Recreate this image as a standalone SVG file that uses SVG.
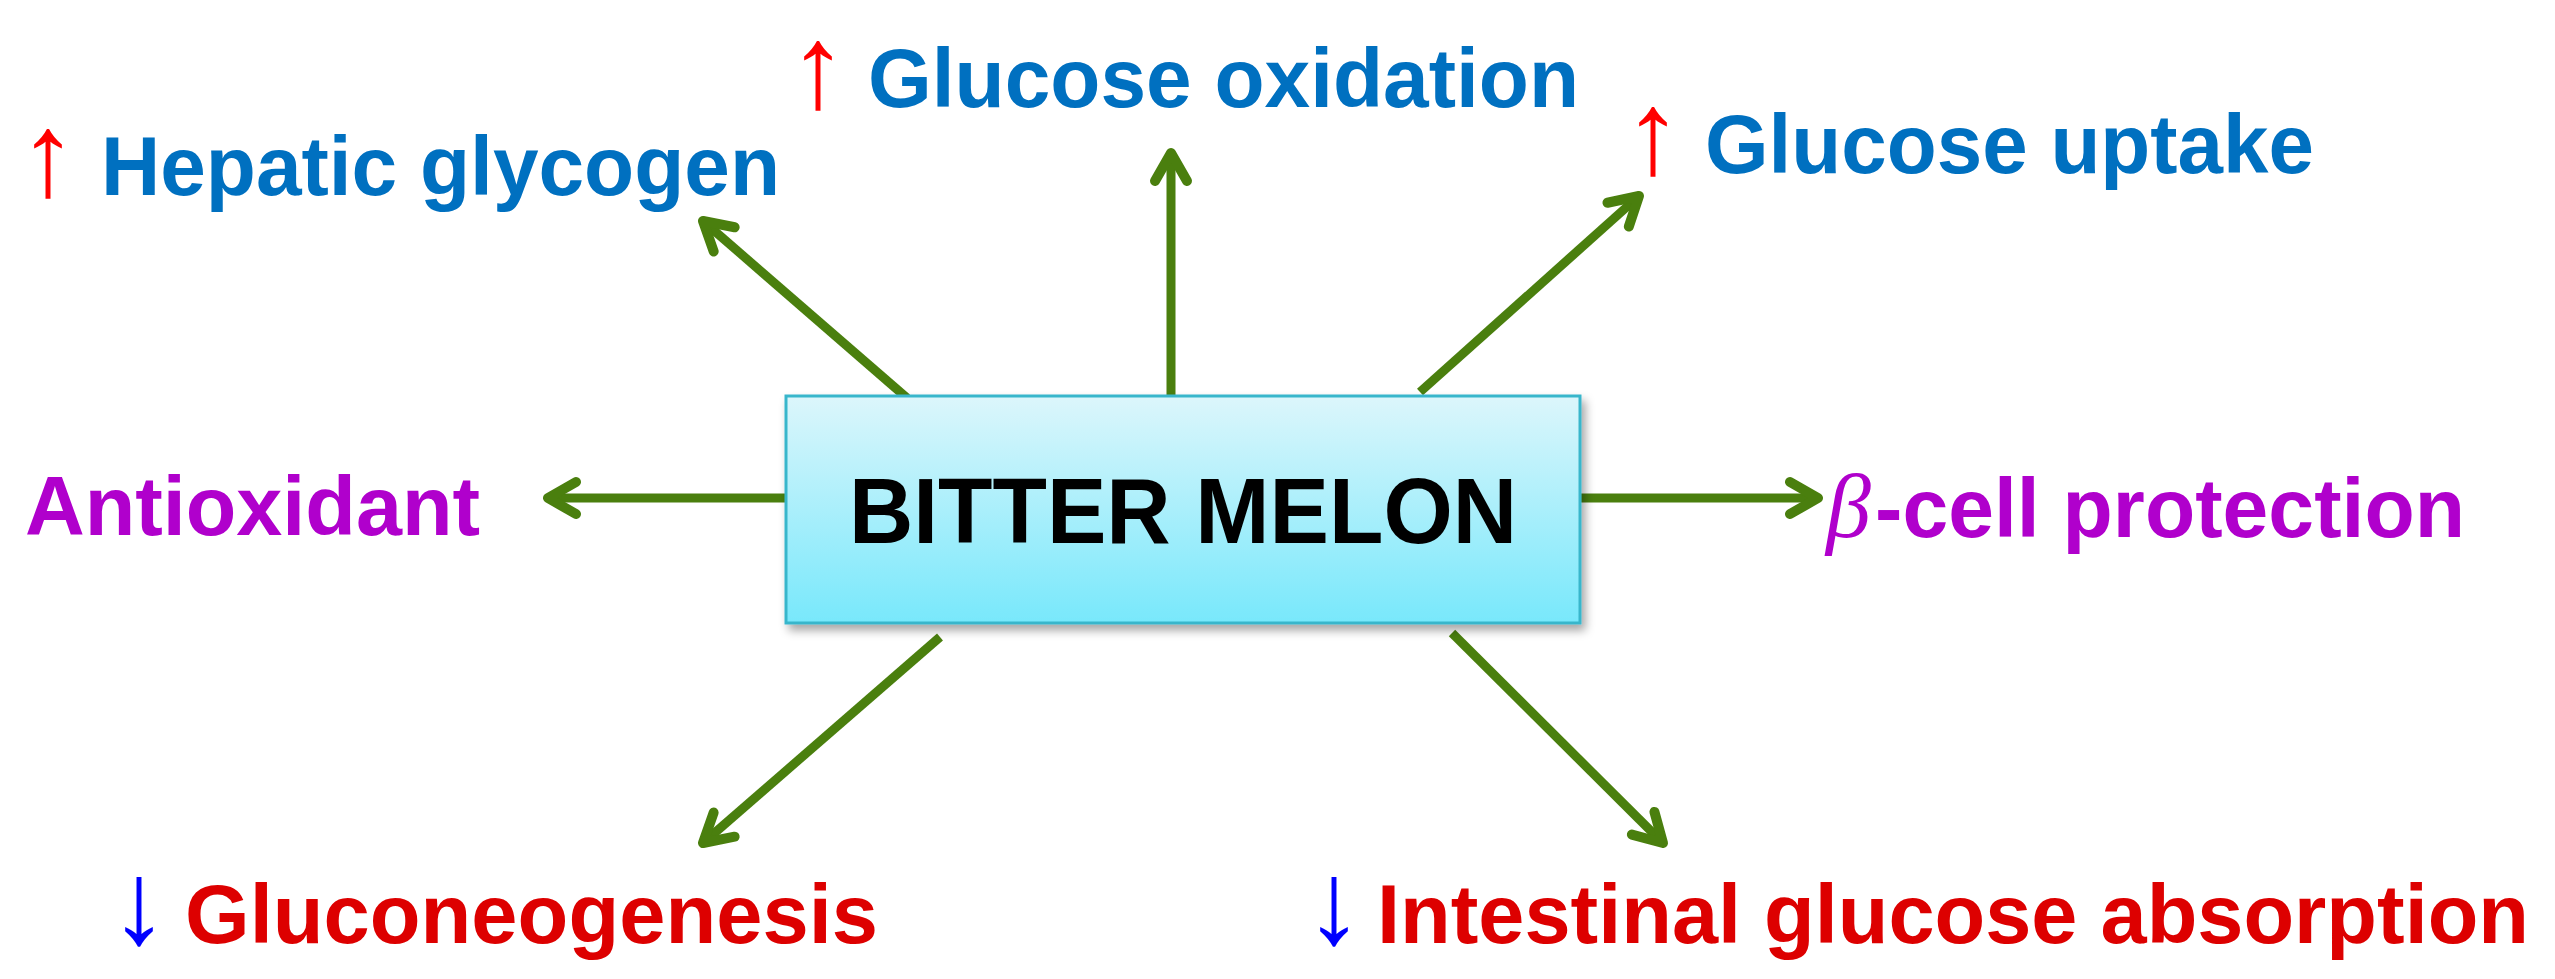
<svg xmlns="http://www.w3.org/2000/svg" width="2555" height="979" viewBox="0 0 2555 979">
  <defs>
    <linearGradient id="boxFill" x1="0" y1="0" x2="0" y2="1">
      <stop offset="0" stop-color="#dcf6fb"/>
      <stop offset="1" stop-color="#78e8fb"/>
    </linearGradient>
    <filter id="shadow" x="-5%" y="-5%" width="112%" height="120%">
      <feDropShadow dx="4" dy="6" stdDeviation="5" flood-color="#000" flood-opacity="0.35"/>
    </filter>
    <marker id="head" markerUnits="userSpaceOnUse" markerWidth="60" markerHeight="60" viewBox="-40 -30 60 60" refX="0" refY="0" orient="auto">
      <path d="M -28 -16 L 0 0 L -28 16" fill="none" stroke="#4a7f0e" stroke-width="10" stroke-linecap="round" stroke-linejoin="round"/>
    </marker>
  </defs>
  <style>
    .lbl { font-family: "Liberation Sans", Arial, sans-serif; font-weight: bold; font-size: 84px; }
    .blue { fill: #0070c0; }
    .red { fill: #dd0000; }
    .purple { fill: #b000cc; }
    .up { font-family: "Liberation Sans", Arial, sans-serif; font-size: 118px; fill: #ff0000; text-anchor: middle; }
    .down { font-family: "Liberation Sans", Arial, sans-serif; font-size: 118px; fill: #0000ff; text-anchor: middle; }
    .conn { stroke: #4a7f0e; stroke-width: 9; fill: none; marker-end: url(#head); }
  </style>
  <rect width="2555" height="979" fill="#ffffff"/>

  <g id="connectors">
    <line class="conn" x1="907" y1="398" x2="703" y2="221"/>
    <line class="conn" x1="1171" y1="397" x2="1171" y2="153"/>
    <line class="conn" x1="1420" y1="392" x2="1639" y2="196"/>
    <line class="conn" x1="786" y1="498" x2="548" y2="498"/>
    <line class="conn" x1="1580" y1="498" x2="1818" y2="498"/>
    <line class="conn" x1="940" y1="637" x2="703" y2="843"/>
    <line class="conn" x1="1452" y1="633" x2="1663" y2="843"/>
  </g>

  <g id="bitter-melon">
    <rect x="786" y="396" width="794" height="227" fill="url(#boxFill)" stroke="#38b6cb" stroke-width="3" filter="url(#shadow)"/>
    <text x="849" y="543" font-family="Liberation Sans, Arial, sans-serif" font-weight="bold" font-size="93" fill="#000" textLength="668" lengthAdjust="spacingAndGlyphs">BITTER MELON</text>
  </g>

  <g id="hepatic-glycogen">
    <text class="up" x="48" y="195">↑</text>
    <text class="lbl blue" x="101" y="195" textLength="679" lengthAdjust="spacingAndGlyphs">Hepatic glycogen</text>
  </g>

  <g id="glucose-oxidation">
    <text class="up" x="818" y="107">↑</text>
    <text class="lbl blue" x="868" y="107" textLength="711" lengthAdjust="spacingAndGlyphs">Glucose oxidation</text>
  </g>

  <g id="glucose-uptake">
    <text class="up" x="1653" y="173">↑</text>
    <text class="lbl blue" x="1705" y="173" textLength="609" lengthAdjust="spacingAndGlyphs">Glucose uptake</text>
  </g>

  <g id="antioxidant">
    <text class="lbl purple" x="25" y="535" textLength="455" lengthAdjust="spacingAndGlyphs">Antioxidant</text>
  </g>

  <g id="beta-cell-protection">
    <text class="purple" y="537"><tspan x="1826" font-family="Liberation Serif, 'Times New Roman', serif" font-style="italic" font-size="90">β</tspan><tspan x="1875" font-family="Liberation Sans, Arial, sans-serif" font-weight="bold" font-size="84" textLength="590" lengthAdjust="spacingAndGlyphs">-cell protection</tspan></text>
  </g>

  <g id="gluconeogenesis">
    <text class="down" x="139" y="943">↓</text>
    <text class="lbl red" x="185" y="943" textLength="693" lengthAdjust="spacingAndGlyphs">Gluconeogenesis</text>
  </g>

  <g id="intestinal-glucose-absorption">
    <text class="down" x="1334" y="943">↓</text>
    <text class="lbl red" x="1377" y="943" textLength="1152" lengthAdjust="spacingAndGlyphs">Intestinal glucose absorption</text>
  </g>
</svg>
